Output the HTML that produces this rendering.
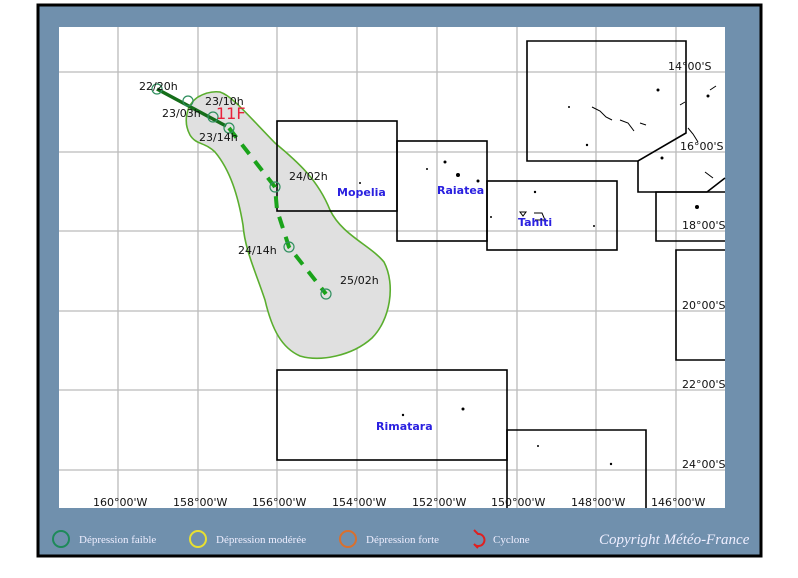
<!DOCTYPE html>
<html><head><meta charset="utf-8"><style>
body{margin:0;background:#fff;width:798px;height:573px;overflow:hidden}
</style></head><body>
<svg width="798" height="573" xmlns="http://www.w3.org/2000/svg" font-family="DejaVu Sans, sans-serif">
<rect x="38" y="5" width="723" height="551" fill="#7090ad" stroke="#000" stroke-width="3"/>
<rect x="59" y="27" width="666" height="481" fill="#fff"/>
<g stroke="#bbb" stroke-width="1.3">
<line x1="118" y1="27" x2="118" y2="508"/><line x1="198" y1="27" x2="198" y2="508"/><line x1="277" y1="27" x2="277" y2="508"/><line x1="357" y1="27" x2="357" y2="508"/><line x1="437" y1="27" x2="437" y2="508"/><line x1="517" y1="27" x2="517" y2="508"/><line x1="596" y1="27" x2="596" y2="508"/><line x1="676" y1="27" x2="676" y2="508"/>
<line x1="59" y1="72" x2="725" y2="72"/><line x1="59" y1="152" x2="725" y2="152"/><line x1="59" y1="231" x2="725" y2="231"/><line x1="59" y1="311" x2="725" y2="311"/><line x1="59" y1="390" x2="725" y2="390"/><line x1="59" y1="470" x2="725" y2="470"/>
</g>
<path d="M220,92 C232,96 245,112 275,143 C298,162 318,180 330,210 C342,235 370,245 384,262 C396,285 390,320 372,338 C352,356 320,362 300,356 C282,348 272,330 265,300 C255,270 245,250 243,225 C238,195 230,170 215,152 C205,142 196,145 190,135 C183,122 186,105 198,97 C205,93 212,91 220,92 Z" fill="#e0e0e0" stroke="#5aae2e" stroke-width="1.6"/>
<g fill="none" stroke="#000" stroke-width="1.6">
<rect x="277" y="121" width="120" height="90"/>
<rect x="397" y="141" width="90" height="100"/>
<rect x="487" y="181" width="130" height="69"/>
<path d="M527,41 H686 V133 L638,161 H527 Z"/>
<path d="M638,161 V192 H707 L725,178"/>
<path d="M725,192 H656 V241 H725"/>
<path d="M725,250 H676 V360 H725"/>
<rect x="277" y="370" width="230" height="90"/>
<path d="M507,508 V430 H646 V508"/>
</g>
<g fill="#000">
<circle cx="569" cy="107" r="1"/><circle cx="587" cy="145" r="1.2"/><circle cx="658" cy="90" r="1.5"/><circle cx="708" cy="96" r="1.5"/><circle cx="662" cy="158" r="1.5"/><circle cx="697" cy="207" r="2"/><circle cx="535" cy="192" r="1.2"/><circle cx="594" cy="226" r="1"/><circle cx="360" cy="183" r="1"/><circle cx="403" cy="415" r="1.2"/><circle cx="463" cy="409" r="1.5"/><circle cx="538" cy="446" r="1"/><circle cx="611" cy="464" r="1.2"/><circle cx="445" cy="162" r="1.5"/><circle cx="458" cy="175" r="2"/><circle cx="478" cy="181" r="1.5"/><circle cx="427" cy="169" r="1"/><circle cx="491" cy="217" r="1"/>
</g>
<g stroke="#000" stroke-width="1" fill="none">
<path d="M592,107 l8,4 l6,6 l6,3"/><path d="M620,120 l8,3 l6,8"/><path d="M640,123 l6,2"/><path d="M680,105 l5,-3"/><path d="M688,128 l5,6 l5,8"/><path d="M710,90 l6,-4"/><path d="M705,172 l8,6"/><path d="M520,212 h6 l-3,4 z"/><path d="M534,213 h8 l3,7 h-10"/>
</g>
<path d="M157,89 L226,126" stroke="#156e1a" stroke-width="3.5"/>
<path d="M229,128 L275,187 L277,210 L289,247 L326,294" stroke="#1aa31a" stroke-width="4" stroke-dasharray="12,9" fill="none"/>
<g fill="none" stroke="#2f8f5e" stroke-width="1.2">
<circle cx="157" cy="89" r="5"/><circle cx="188" cy="101" r="5"/><circle cx="213" cy="117" r="5"/><circle cx="229" cy="128" r="5"/><circle cx="275" cy="187" r="5"/><circle cx="289" cy="247" r="5"/><circle cx="326" cy="294" r="5"/>
</g>
<g font-size="11" fill="#111">
<text x="139" y="90">22/20h</text><text x="162" y="117">23/03h</text><text x="205" y="105">23/10h</text><text x="199" y="141">23/14h</text><text x="289" y="180">24/02h</text><text x="238" y="254">24/14h</text><text x="340" y="284">25/02h</text>
<text x="668" y="70">14°00'S</text><text x="680" y="150">16°00'S</text><text x="682" y="229">18°00'S</text><text x="682" y="309">20°00'S</text><text x="682" y="388">22°00'S</text><text x="682" y="468">24°00'S</text>
<text x="93" y="506">160°00'W</text><text x="173" y="506">158°00'W</text><text x="252" y="506">156°00'W</text><text x="332" y="506">154°00'W</text><text x="412" y="506">152°00'W</text><text x="491" y="506">150°00'W</text><text x="571" y="506">148°00'W</text><text x="651" y="506">146°00'W</text>
</g>
<text x="216" y="119" font-size="16" fill="#e8223c">11F</text>
<g font-size="11" font-weight="bold" fill="#2a20e0">
<text x="337" y="196">Mopelia</text><text x="437" y="194">Raiatea</text><text x="518" y="226">Tahiti</text><text x="376" y="430">Rimatara</text>
</g>
<g font-family="Liberation Serif, serif" font-size="11" fill="#eef">
<circle cx="61" cy="539" r="8" fill="none" stroke="#1e8a5a" stroke-width="2"/><text x="79" y="543">Dépression faible</text>
<circle cx="198" cy="539" r="8" fill="none" stroke="#e8e030" stroke-width="2"/><text x="216" y="543">Dépression modérée</text>
<circle cx="348" cy="539" r="8" fill="none" stroke="#d8702e" stroke-width="2"/><text x="366" y="543">Dépression forte</text>
<path d="M474,530 l4,4 a6,6 0 1 1 -4,10 l4,4" fill="none" stroke="#e02020" stroke-width="2"/><text x="493" y="543">Cyclone</text>
<text x="599" y="544" font-size="15" font-style="italic">Copyright Météo-France</text>
</g>
</svg>
</body></html>
